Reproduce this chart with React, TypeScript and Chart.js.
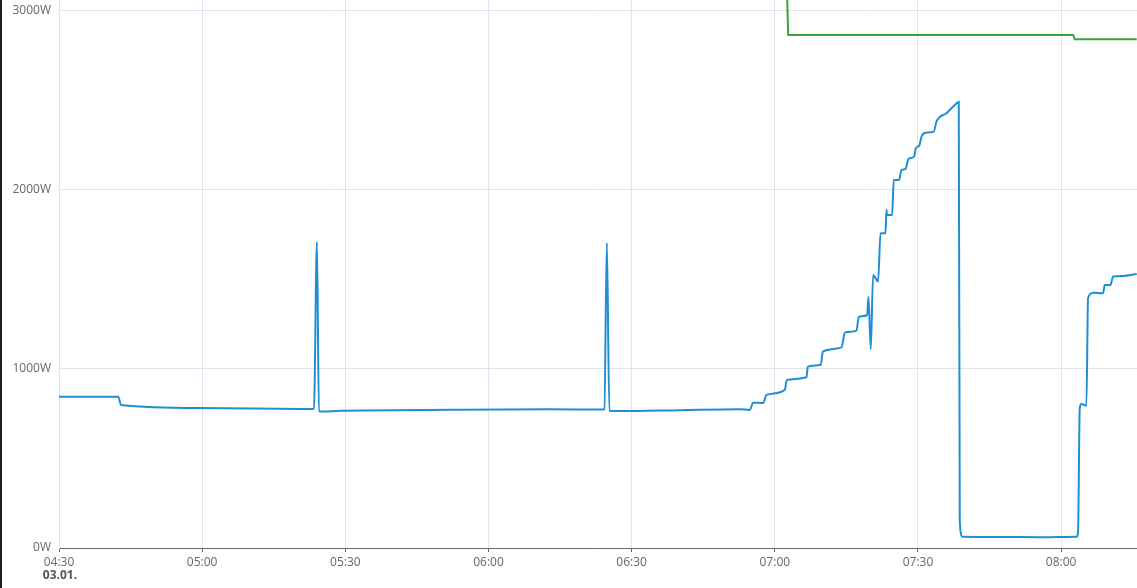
import { useRef, useEffect } from "react"
import { Chart, registerables, type ChartConfiguration } from "chart.js"

Chart.register(...registerables)

// time in minutes since midnight (03.01.), power in W
const blueMinutes = [
  270.0, 282.42, 282.99, 299.54, 320.49, 323.42, 324.05, 324.47, 325.1, 328.87, 351.91,
  372.86, 383.97, 384.28, 384.81, 385.33, 387.53, 400.1, 412.67, 414.76, 415.45, 417.55,
  418.26, 422.1, 422.52, 426.64, 426.92, 429.64, 430.06, 433.98, 434.67, 437.12, 437.6,
  439.34, 439.63, 440.11, 440.6, 441.64, 442.15, 443.19, 443.4, 443.53, 444.58, 444.93,
  446.04, 446.54, 447.38, 448.01, 449.19, 449.54, 450.23, 450.8, 451.64, 453.31, 453.88,
  455.97, 458.28, 458.55, 458.76, 459.33, 467.14, 475.52, 483.21, 483.54, 483.9, 484.26,
  485.3, 485.64, 486.69, 488.78, 489.14, 490.33, 490.88, 492.97, 495.84,
]
const blueWatts = [
  845, 845, 799, 782, 777, 776, 1709, 762, 762, 766, 772,
  775, 773, 775, 1704, 765, 765, 770, 775, 771, 812, 810,
  855, 883, 939, 954, 1013, 1024, 1097, 1121, 1203, 1214, 1292,
  1300, 1404, 1110, 1525, 1488, 1758, 1758, 1888, 1860, 1860, 2056,
  2056, 2112, 2117, 2173, 2186, 2233, 2246, 2302, 2320, 2326, 2382,
  2429, 2488, 2492, 147, 63, 62, 60, 63, 82, 780, 804,
  795, 1395, 1426, 1423, 1469, 1469, 1516, 1520, 1531,
]

const greenMinutes = [422.45, 422.81, 482.5, 482.86, 495.84]
const greenWatts = [3200, 2866, 2866, 2842, 2842]

const xMin = 270
const xMax = 495.9
const yMax = 3061
const yTicks = [0, 1000, 2000, 3000]
const dateLabel = "03.01."

const pad = (n: number) => String(n).padStart(2, "0")
const fmtTime = (m: number) => `${pad(Math.floor(m / 60))}:${pad(Math.round(m % 60))}`

const dateLabelPlugin = {
  id: "dateLabel",
  afterDraw(chart: Chart) {
    const ctx = chart.ctx
    const x = chart.scales.x.getPixelForValue(xMin)
    ctx.save()
    ctx.font = "bold 12px 'Open Sans'"
    ctx.fillStyle = "#555"
    ctx.textAlign = "center"
    ctx.textBaseline = "middle"
    ctx.fillText(dateLabel, x + 1, 576)
    ctx.restore()
  },
}

export default function App() {
  const chartRef = useRef<HTMLCanvasElement>(null)
  const chartInstance = useRef<Chart | null>(null)

  useEffect(() => {
    document.body.style.margin = "0"
    document.body.style.overflow = "hidden"
    if (!chartRef.current) return
    const ctx = chartRef.current.getContext("2d")
    if (!ctx) return

    const config: ChartConfiguration = {
      type: "line",
      data: {
        datasets: [
          {
            label: "green",
            data: greenMinutes.map((m, i) => ({ x: m, y: greenWatts[i] })),
            borderColor: "#3aa53a",
            borderWidth: 2,
            pointRadius: 0,
            tension: 0,
            fill: false,
          },
          {
            label: "blue",
            data: blueMinutes.map((m, i) => ({ x: m, y: blueWatts[i] })),
            borderColor: "#1f8fd4",
            borderWidth: 2,
            pointRadius: 0,
            cubicInterpolationMode: "monotone",
            fill: false,
          },
        ],
      },
      options: {
        animation: false,
        responsive: true,
        maintainAspectRatio: false,
        layout: { padding: 0 },
        plugins: {
          legend: { display: false },
          tooltip: { enabled: false },
        },
        scales: {
          x: {
            type: "linear",
            min: xMin,
            max: xMax,
            afterBuildTicks: (scale: any) => {
              scale.ticks = scale.ticks.filter((t: any) => t.value % 30 === 0)
            },
            afterFit: (scale: any) => {
              scale.height = 40
              scale.paddingLeft = 0
              scale.paddingRight = 0
            },
            ticks: {
              stepSize: 30,
              maxRotation: 0,
              autoSkip: false,
              padding: 3,
              color: "#666",
              font: { family: "'Open Sans'", size: 12 },
              callback: (v: any) => fmtTime(Number(v)),
            },
            grid: {
              color: "#dfe5ee",
              tickColor: "#666",
              tickLength: 4,
            },
            border: { color: "#666", width: 1 },
          },
          y: {
            type: "linear",
            min: 0,
            max: yMax,
            afterBuildTicks: (scale: any) => {
              scale.ticks = yTicks.map((v) => ({ value: v }))
            },
            afterFit: (scale: any) => {
              scale.width = 57
              scale.paddingTop = 0
              scale.paddingBottom = 0
            },
            ticks: {
              padding: 8,
              color: "#666",
              font: { family: "'Open Sans'", size: 12 },
              callback: (v: any) => `${v}W`,
            },
            grid: {
              color: "#dfe5ee",
              drawTicks: false,
            },
            border: { color: "#dfe5ee", width: 1 },
          },
        },
      },
      plugins: [dateLabelPlugin],
    }

    chartInstance.current = new Chart(ctx, config)
    return () => {
      if (chartInstance.current) {
        chartInstance.current.destroy()
        chartInstance.current = null
      }
    }
  }, [])

  return (
    <div
      style={{
        position: "relative",
        width: 1137,
        height: 588,
        boxSizing: "border-box",
        borderLeft: "2px solid #1e1e1e",
        background: "#fff",
      }}
    >
      <canvas ref={chartRef}></canvas>
    </div>
  )
}
